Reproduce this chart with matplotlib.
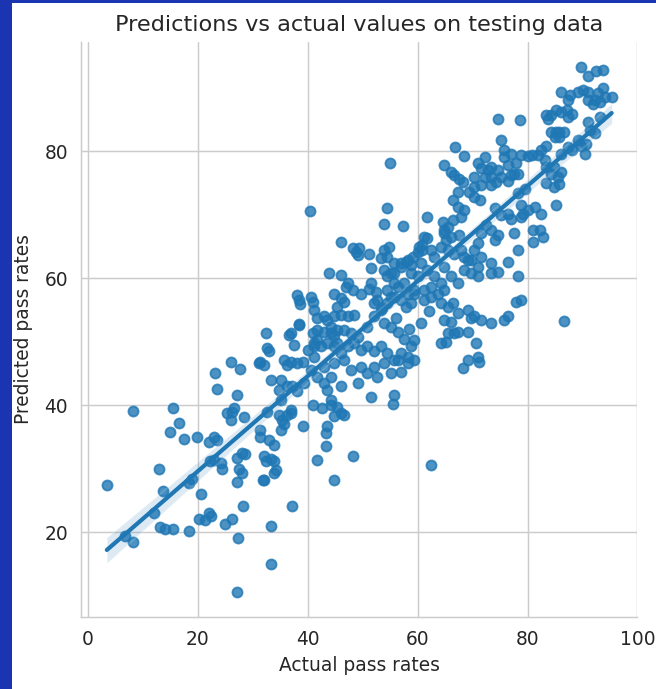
import matplotlib
matplotlib.use("Agg")
import matplotlib.pyplot as plt
import numpy as np
import seaborn as sns
from matplotlib.patches import Rectangle

# values (actual pass rate, predicted pass rate)
actual = [
    # below 20
    3.5, 6.8, 8.2, 8.2, 12.0, 13.0, 13.8, 13.2, 14.1, 15.6, 15.6, 16.6, 15.0, 17.5, 18.4, 18.4, 18.9, 19.9,
    # 20 - 30
    20.2, 20.6, 21.4, 22.0, 22.5, 24.9, 26.2, 27.3, 27.2, 28.3, 27.1, 27.5, 28.1, 27.2, 28.1, 28.7, 22.3,
    22.9, 24.2, 24.5, 22.0, 22.9, 23.5, 23.6, 23.2, 27.2, 25.4, 26.3, 26.6, 28.4, 26.0, 27.8, 26.0,
    # 30 - 40
    33.3, 33.3, 37.2, 31.9, 31.3, 31.4, 33.0, 33.9, 32.4, 33.9,
    34.2, 33.9, 35.1, 39.1, 32.7, 34.8, 35.4, 36.9, 31.4, 32.1,
    31.1, 32.4, 32.7, 33.0, 33.3, 34.8, 35.1, 35.7, 36.6, 37.5,
    36.9, 38.4, 35.7, 36.9, 38.1, 39.1, 36.3, 38.1, 38.4, 38.7,
    38.4, 36.3, 39.3, 35.1, 38.1, 37.2, 32.0, 33.3, 32.1, 36.9, 36.3,
    # 40 - 50
    41.7, 44.8, 48.2, 43.3, 43.3, 43.6, 40.9, 44.2, 46.0, 46.6,
    40.0, 41.2, 40.9, 41.8, 43.0, 44.2, 45.4, 40.6, 41.8, 43.0,
    43.6, 44.2, 45.4, 44.8, 42.7,
    40.5, 46.0, 48.2, 48.8, 49.1, 49.4, 43.9, 46.0, 47.3, 48.2,
    46.9, 49.7, 40.6, 40.9, 44.8, 46.0, 45.4, 46.6, 41.2, 41.8,
    43.0, 43.6, 44.8, 46.0, 47.3, 48.5, 41.8, 44.2, 44.8, 45.4,
    46.6, 47.9, 49.1, 41.2, 42.4, 43.6, 44.8, 46.0, 47.3, 48.5,
    49.7, 41.2, 43.0, 44.8, 46.6, 47.9, 49.7, 44.2, 46.0, 49.1,
    # 50 - 60
    53.9, 57.3, 51.2, 51.5, 54.8, 53.3, 54.5, 57.9, 57.0, 58.8,
    59.1, 51.2, 51.5, 52.4, 52.7, 52.1, 53.9, 54.5, 55.8, 55.8,
    56.4, 55.1, 54.5, 53.6, 57.6, 58.2, 58.8, 57.9, 57.0, 59.4,
    50.9, 52.1, 53.3, 50.9, 52.1, 53.3, 54.5, 55.8, 57.0, 58.2,
    58.8, 59.4, 50.9, 52.1, 53.9, 55.1, 56.4, 58.2, 57.0, 59.4,
    51.5, 55.8, 52.7, 55.0, 54.5, 53.9, 55.8, 55.1, 57.0, 58.2,
    58.8, 54.5, 55.8, 59.4, 55.6, 55.1, 56.4, 57.6, 53.9, 56.0, 58.5,
    # 60 - 70
    61.8, 61.8, 60.9, 60.0, 64.9, 66.1, 66.7, 67.6, 68.2, 67.3,
    69.4, 66.8, 68.5, 66.4, 67.3, 68.5, 67.9, 66.4, 65.5, 64.6,
    64.9, 66.1, 67.6, 61.2, 60.3, 60.9, 62.4, 63.0, 64.3, 65.5,
    66.7, 67.9, 68.5, 69.7, 60.6, 61.8, 63.0, 64.3, 62.4, 61.2,
    64.9, 66.1, 67.3, 68.5, 69.7, 69.1, 60.0, 61.2, 62.4, 63.7,
    64.9, 64.3, 65.5, 67.3, 69.1, 64.9, 65.5, 64.3, 65.2, 62.1,
    60.6, 66.4, 66.1, 66.7, 67.3, 69.1, 69.1, 68.2, 62.5, 64.8, 65.1,
    # 70 - 80
    70.3, 71.3, 70.3, 71.6, 72.2,
    71.0, 71.6, 72.2, 72.8, 73.4, 74.6, 75.8, 75.8, 77.0, 76.4,
    77.9, 78.3, 77.0, 76.4, 75.2, 74.3, 73.4, 78.8, 70.3, 73.4,
    79.5, 78.3, 78.9, 74.0, 75.2, 76.4, 77.0, 78.8, 77.6, 78.3,
    76.4, 78.3, 78.8, 75.8, 72.5, 73.4, 74.6, 74.0, 71.6, 71.0,
    70.3, 71.6, 71.0, 73.4, 74.6, 73.4, 71.0,
    70.3, 71.6, 73.4, 76.4, 77.9, 69.7, 70.6, 71.0, 71.2, 74.6, 78.7, 75.2, 77.6,
    # 80 and above
    80.1, 80.9, 81.9, 82.5, 83.4, 83.1, 83.4, 84.9, 84.3, 86.1,
    85.5, 85.8, 84.9, 83.4, 85.2, 80.1, 81.3, 82.5, 79.2, 81.0,
    82.2, 82.8, 81.0, 86.6, 89.8, 91.0, 92.5, 93.8,
    86.1, 87.7, 87.4, 89.2, 90.1, 91.0, 91.0, 92.2, 92.8, 93.7, 94.0, 95.3, 93.1, 91.9,
    83.4, 84.3, 85.2, 86.1, 87.1, 87.4, 88.0, 83.7,
    84.3, 85.2, 85.8, 86.7, 85.0, 85.8,
    91.0, 93.1, 91.3, 92.2, 89.2, 89.8, 90.7, 90.4, 87.4, 88.0, 86.1,
]

predicted = [
    # below 20
    27.5, 19.4, 18.5, 39.2, 23.1, 30.0, 26.5, 20.8, 20.6, 20.6, 39.6, 37.3, 35.8, 34.7, 20.2, 27.8, 28.4, 35.1,
    # 20 - 30
    22.2, 26.0, 22.0, 23.0, 22.6, 21.4, 22.2, 19.1, 10.6, 24.1, 28.0, 30.0, 29.4, 31.7, 32.5, 32.4, 31.2,
    31.4, 30.9, 30.0, 34.3, 35.1, 34.6, 42.6, 45.1, 41.6, 38.8, 39.0, 39.6, 38.2, 46.9, 45.7, 37.7,
    # 30 - 40
    21.1, 15.0, 24.1, 28.2, 36.2, 35.1, 34.6, 33.8, 31.2, 31.2,
    29.9, 29.4, 36.2, 36.7, 39.0, 38.5, 37.7, 38.8, 46.9, 46.4,
    46.7, 51.4, 49.0, 48.5, 44.0, 42.5, 40.9, 37.0, 51.1, 49.5,
    51.4, 52.7, 47.2, 46.9, 46.7, 46.9, 46.4, 57.4, 56.6, 56.0,
    52.8, 43.0, 43.5, 44.0, 42.2, 43.0, 32.0, 31.5, 28.3, 39.3, 38.5,
    # 40 - 50
    31.4, 28.3, 32.0, 33.6, 35.7, 36.7, 40.1, 40.1, 38.8, 38.5,
    48.7, 49.3, 51.4, 50.3, 51.6, 51.4, 49.8, 45.6, 44.5, 43.5,
    42.5, 40.9, 39.8, 38.3, 39.6,
    70.6, 65.8, 64.7, 64.2, 63.7, 64.7, 60.8, 60.5, 59.2, 58.2,
    58.7, 57.6, 57.1, 56.3, 57.6, 56.9, 55.5, 56.3, 55.0, 53.7,
    54.0, 53.5, 54.0, 54.2, 54.0, 54.2, 51.9, 52.4, 51.1, 51.9,
    51.9, 51.4, 50.8, 49.8, 49.3, 49.8, 49.3, 48.2, 49.3, 49.8,
    48.7, 47.7, 46.1, 46.6, 47.2, 45.6, 46.1, 44.5, 43.0, 43.5,
    # 50 - 60
    68.6, 68.2, 63.9, 61.6, 65.0, 63.2, 63.4, 62.6, 62.4, 62.1,
    63.4, 58.4, 59.2, 57.9, 56.6, 56.1, 61.3, 60.3, 60.8, 59.2,
    58.7, 57.1, 56.1, 55.3, 59.2, 57.6, 56.1, 55.5, 56.6, 58.2,
    52.4, 54.0, 55.0, 49.3, 48.5, 49.3, 48.2, 47.2, 48.2, 47.7,
    49.3, 50.3, 45.1, 46.1, 46.6, 45.1, 47.2, 46.6, 45.3, 47.2,
    41.4, 41.7, 44.5, 78.2, 71.0, 64.5, 62.4, 60.8, 61.8, 62.9,
    60.8, 58.2, 57.1, 57.6, 40.2, 52.4, 51.6, 50.5, 52.9, 53.8, 52.0,
    # 60 - 70
    69.7, 66.3, 65.2, 64.2, 77.8, 76.7, 76.2, 75.7, 75.2, 73.6,
    73.6, 80.6, 79.2, 72.3, 71.3, 70.7, 69.7, 69.2, 68.1, 68.9,
    67.1, 66.5, 66.8, 66.5, 65.0, 64.5, 64.5, 63.4, 65.0, 64.5,
    63.9, 64.5, 63.4, 62.9, 62.4, 61.3, 60.3, 59.2, 58.7, 58.2,
    61.8, 60.3, 59.2, 61.3, 60.8, 62.9, 60.3, 56.6, 57.1, 57.6,
    58.2, 56.1, 55.5, 54.5, 55.0, 53.5, 51.4, 49.8, 50.0, 54.8,
    52.9, 56.1, 53.2, 51.4, 51.6, 51.6, 47.2, 45.9, 30.6, 67.6, 66.0,
    # 70 - 80
    72.8, 72.3, 74.4, 74.7, 76.0,
    78.1, 77.3, 79.1, 77.0, 77.5, 77.0, 79.1, 80.2, 79.6, 77.8,
    78.1, 76.5, 76.2, 75.4, 76.0, 75.2, 74.7, 79.4, 76.0, 76.0,
    74.1, 73.4, 71.5, 71.0, 69.9, 70.2, 69.4, 69.7, 67.1, 64.5,
    62.6, 60.3, 56.6, 53.5, 68.4, 67.6, 66.8, 66.0, 67.1, 65.5,
    64.5, 63.4, 61.8, 62.4, 61.0, 60.8, 60.3,
    54.0, 53.5, 52.9, 54.0, 56.3, 53.7, 49.8, 47.7, 46.9, 85.1, 84.9, 81.7, 76.5,
    # 80 and above
    79.2, 79.4, 79.4, 80.2, 80.9, 78.6, 77.5, 77.5, 76.5, 76.7,
    76.0, 74.9, 74.4, 75.0, 71.5, 70.7, 71.3, 70.2, 70.2, 67.6,
    67.6, 66.5, 65.8, 53.3, 93.2, 91.9, 92.7, 92.8,
    89.3, 88.8, 88.0, 89.3, 89.6, 89.3, 88.0, 88.0, 89.1, 89.9, 88.5, 88.5, 87.8, 87.5,
    85.7, 85.7, 86.5, 86.2, 86.5, 85.4, 85.9, 85.1,
    83.0, 83.0, 83.0, 83.0, 82.2, 82.2,
    84.6, 85.4, 83.3, 82.8, 81.7, 80.9, 81.2, 79.6, 80.7, 80.2, 79.6,
]

sns.set_style("whitegrid")

W, H, DPI = 656, 689, 134
fig = plt.figure(figsize=(W / DPI, H / DPI), dpi=DPI)
ax = fig.add_axes([81 / W, 1 - 617 / H, (637.5 - 81) / W, (617 - 42) / H])

sns.regplot(x=np.array(actual), y=np.array(predicted), ax=ax, seed=0,
            scatter_kws={"s": 29})
sns.despine(ax=ax)

ax.set_xlim(-1.2, 100.0)
ax.set_ylim(6.7, 97.2)
ax.set_title("Predictions vs actual values on testing data")
ax.set_xlabel("Actual pass rates")
ax.set_ylabel("Predicted pass rates", labelpad=6)

# blue frame of the screenshot
frame = "#1b34b2"
fig.patches.append(Rectangle((0, 0), 12 / W, 1, transform=fig.transFigure,
                             facecolor=frame, edgecolor="none", zorder=10))
fig.patches.append(Rectangle((0, 1 - 3 / H), 1, 3 / H, transform=fig.transFigure,
                             facecolor=frame, edgecolor="none", zorder=10))

fig.savefig("out.png", dpi=DPI)
